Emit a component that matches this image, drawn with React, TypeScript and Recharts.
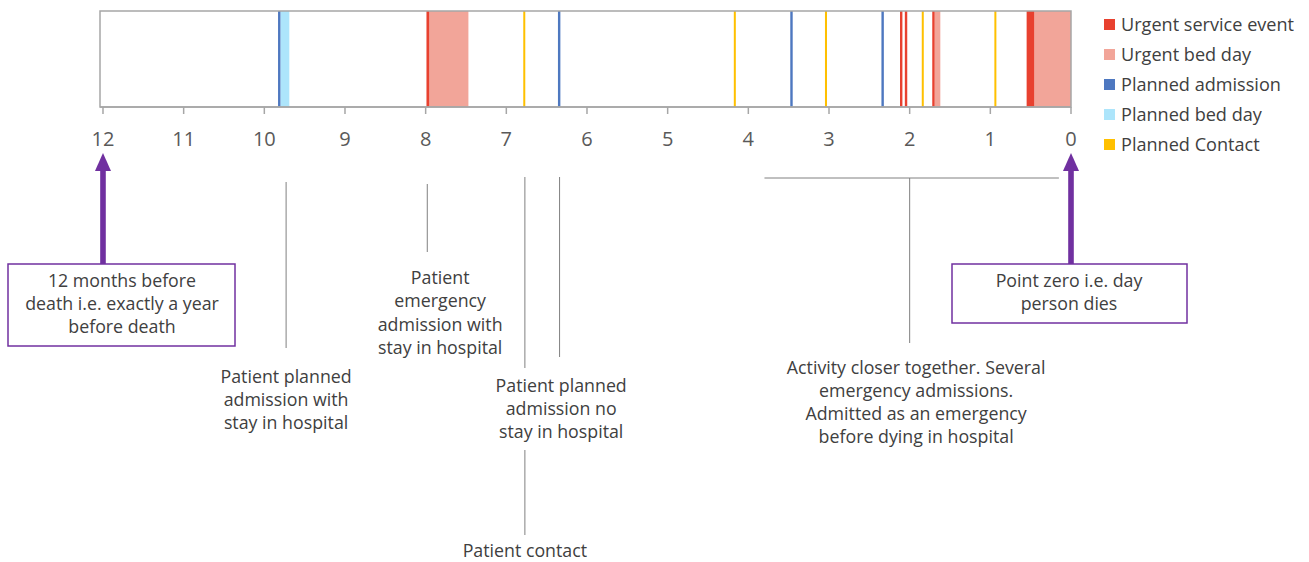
import { ComposedChart, ReferenceArea, XAxis, YAxis } from "recharts"

// months before death, shown right-to-left
const monthTicks = [12, 11, 10, 9, 8, 7, 6, 5, 4, 3, 2, 1, 0]

// each entry is [from, to] in months before death
const urgentServiceEvents = [[7.99, 7.955], [2.12, 2.09], [2.06, 2.03], [1.72, 1.69], [0.55, 0.455]]
const urgentBedDays = [[7.955, 7.47], [1.69, 1.62], [0.455, 0]]
const plannedAdmissions = [[9.83, 9.8], [6.36, 6.33], [3.48, 3.45], [2.35, 2.32]]
const plannedBedDays = [[9.8, 9.69]]
const plannedContacts = [[6.79, 6.765], [4.18, 4.155], [3.05, 3.025], [1.85, 1.825], [0.95, 0.925]]

const seriesNames = ["Urgent service event", "Urgent bed day", "Planned admission", "Planned bed day", "Planned Contact"]
const seriesColors = ["#E8412F", "#F2A599", "#4E78C0", "#ADE5FB", "#FFC000"]
const seriesData = [urgentServiceEvents, urgentBedDays, plannedAdmissions, plannedBedDays, plannedContacts]
const drawOrder = [1, 3, 0, 2, 4]

const W = 1309
const H = 562
const plotLeft = 100
const plotRight = 1071
const plotTop = 11
const plotBottom = 107
const domainMax = 12.037
const font = "'Open Sans', sans-serif"
const textColor = "#404040"
const leaderColor = "#808080"
const purple = "#7030A0"

const xOf = (m: number) => plotLeft + ((domainMax - m) / domainMax) * (plotRight - plotLeft)

// anchor rows so the axes have something to span
const axisRows = monthTicks.map((m) => ({ x: m, y: 0.5 }))

const MultiText = ({ x, ys, lines, size = 17.8 }: { x: number; ys: number[]; lines: string[]; size?: number }) => (
  <text textAnchor="middle" fontFamily={font} fontSize={size} fill={textColor}>
    {lines.map((l, i) => (
      <tspan key={i} x={x} y={ys[i]} dominantBaseline="middle">{l}</tspan>
    ))}
  </text>
)

const Arrow = ({ m, tipY, baseY }: { m: number; tipY: number; baseY: number }) => {
  const x = xOf(m)
  return (
    <g fill={purple}>
      <rect x={x - 2.8} y={tipY + 16} width={5.6} height={baseY - tipY - 16} />
      <polygon points={`${x},${tipY} ${x - 8},${tipY + 18} ${x + 8},${tipY + 18}`} />
    </g>
  )
}

const Annotations = () => (
  <svg width={W} height={H} style={{ position: "absolute", left: 0, top: 0, pointerEvents: "none" }}>
    <g stroke={leaderColor} strokeWidth={1}>
      <line x1={xOf(9.73)} x2={xOf(9.73)} y1={182} y2={348} />
      <line x1={xOf(7.98)} x2={xOf(7.98)} y1={184} y2={252} />
      <line x1={xOf(6.77)} x2={xOf(6.77)} y1={177} y2={368} />
      <line x1={xOf(6.77)} x2={xOf(6.77)} y1={450} y2={535} />
      <line x1={xOf(6.34)} x2={xOf(6.34)} y1={177} y2={357} />
      <line x1={xOf(3.8)} x2={xOf(0.15)} y1={178} y2={178} />
      <line x1={xOf(2.0)} x2={xOf(2.0)} y1={178} y2={343} />
    </g>
    <MultiText x={xOf(9.73)} ys={[378, 401, 424]} lines={["Patient planned", "admission with", "stay in hospital"]} />
    <MultiText x={xOf(7.82)} ys={[279, 302, 326, 349]} lines={["Patient", "emergency", "admission with", "stay in hospital"]} />
    <MultiText x={xOf(6.32)} ys={[387, 410, 433]} lines={["Patient planned", "admission no", "stay in hospital"]} />
    <MultiText x={xOf(6.77)} ys={[552]} lines={["Patient contact"]} />
    <MultiText x={xOf(1.92)} ys={[369, 392, 415, 438]} lines={["Activity closer together. Several", "emergency admissions.", "Admitted as an emergency", "before dying in hospital"]} />

    <Arrow m={12} tipY={153} baseY={264} />
    <Arrow m={0} tipY={153} baseY={264} />
    <rect x={8} y={264} width={227} height={82} fill="#fff" stroke={purple} strokeWidth={1.5} />
    <MultiText x={122} ys={[282, 305, 328]} lines={["12 months before", "death i.e. exactly a year", "before death"]} />
    <rect x={952} y={264} width={235} height={59} fill="#fff" stroke={purple} strokeWidth={1.5} />
    <MultiText x={1069} ys={[282, 305]} lines={["Point zero i.e. day", "person dies"]} />
  </svg>
)

const LegendBox = () => (
  <div style={{ position: "absolute", left: 1104, top: 9, fontFamily: font, fontSize: 18.1, color: textColor }}>
    {seriesNames.map((name, i) => (
      <div key={name} style={{ display: "flex", alignItems: "center", height: 30 }}>
        <span style={{ width: 11, height: 11, background: seriesColors[i], marginRight: 6 }} />
        <span>{name}</span>
      </div>
    ))}
  </div>
)

export default function App() {
  return (
    <div style={{ position: "absolute", left: 0, top: 0, width: W, height: H, background: "#fff" }}>
      <ComposedChart
        width={W}
        height={H}
        data={axisRows}
        margin={{ top: plotTop, left: plotLeft, right: W - plotRight, bottom: H - plotBottom - 30 }}
      >
        <XAxis
          type="number"
          dataKey="x"
          domain={[0, domainMax]}
          allowDataOverflow
          reversed
          ticks={monthTicks}
          interval={0}
          height={30}
          tickSize={7}
          tickMargin={18}
          axisLine={{ stroke: "#A6A6A6", strokeWidth: 1.5 }}
          tickLine={{ stroke: "#A6A6A6", strokeWidth: 1.5 }}
          tick={{ fill: "#595959", fontSize: 20, fontFamily: font }}
        />
        <YAxis type="number" dataKey="y" domain={[0, 1]} allowDataOverflow hide />
        {drawOrder.map((s) =>
          seriesData[s].map(([from, to], i) => (
            <ReferenceArea
              key={`${s}-${i}`}
              x1={from}
              x2={to}
              y1={0}
              y2={1}
              fill={seriesColors[s]}
              fillOpacity={1}
              stroke="none"
            />
          ))
        )}
        <ReferenceArea x1={domainMax} x2={0} y1={0} y2={1} fill="none" stroke="#A6A6A6" strokeWidth={1.5} />
      </ComposedChart>
      <LegendBox />
      <Annotations />
    </div>
  )
}
